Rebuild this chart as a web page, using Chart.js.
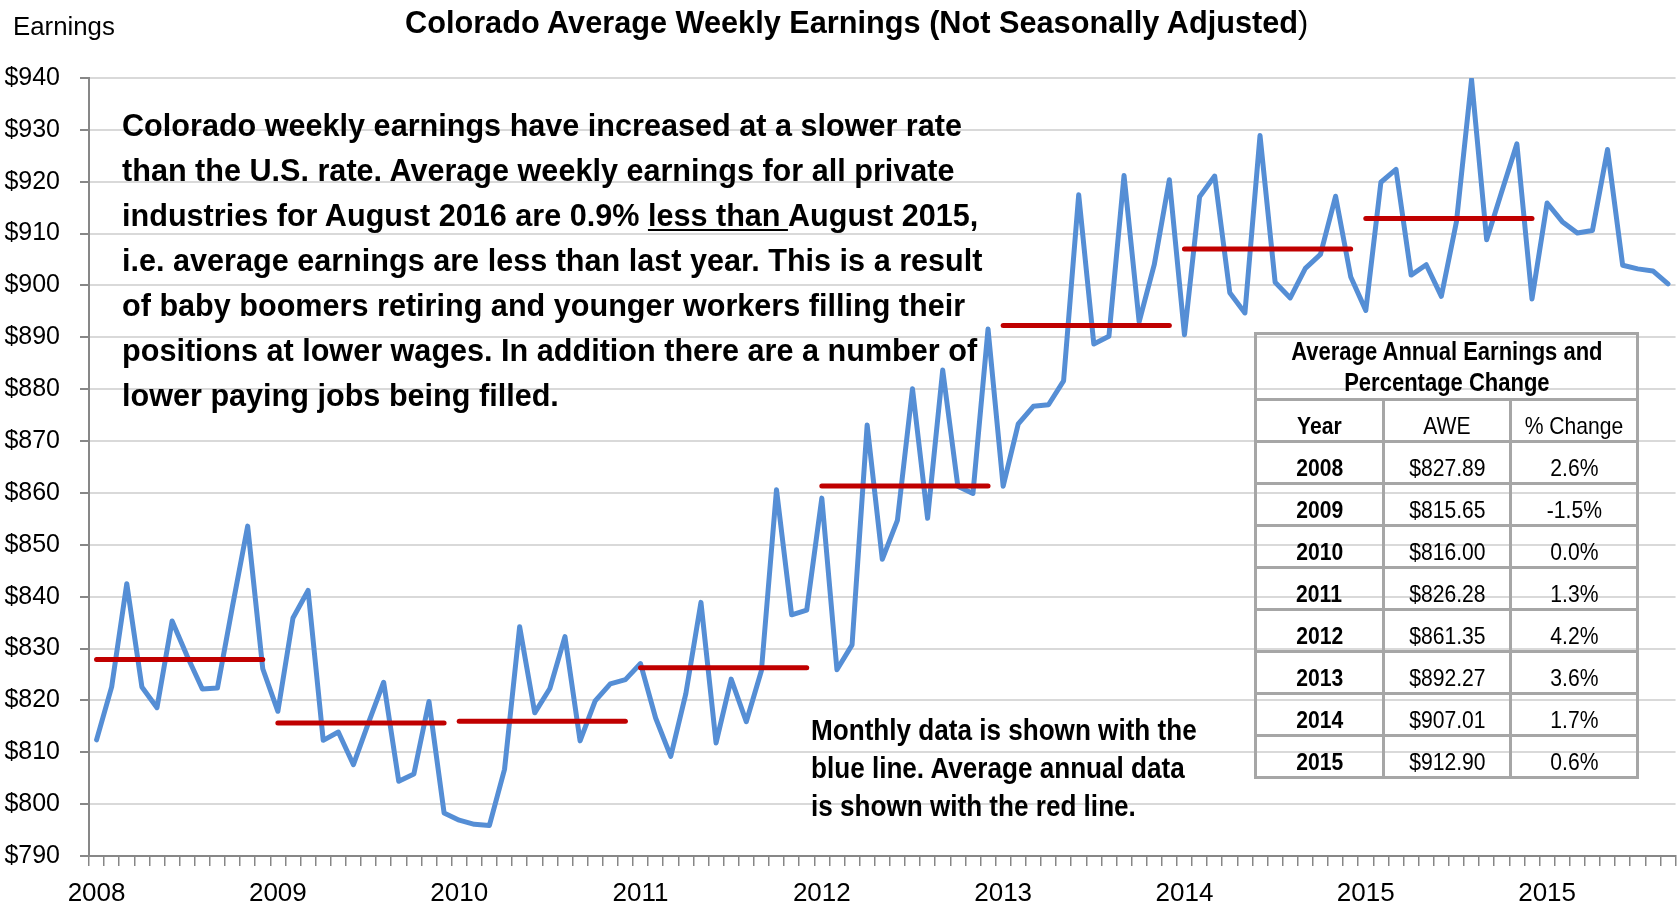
<!DOCTYPE html>
<html>
<head>
<meta charset="utf-8">
<title>Colorado Average Weekly Earnings</title>
<script src="https://cdn.jsdelivr.net/npm/chart.js@4.4.1/dist/chart.umd.min.js"></script>
<style>
  body { margin: 0; background: #fff; font-family: "Liberation Sans", Arial, sans-serif; }
  #wrap { position: relative; width: 1680px; height: 911px; overflow: hidden; }
  #chartBox { position: absolute; left: 0; top: 0; width: 1680px; height: 911px; }
  .txt { position: absolute; white-space: nowrap; color: #000; }
  #earningsLbl { left: 13px; top: 11px; font-size: 25.8px; line-height: 30px; }
  #title { left: 405px; top: 5px; font-size: 30.7px; line-height: 36px; font-weight: bold; }
  #note { left: 122px; top: 103px; font-size: 30.6px; line-height: 45px; font-weight: bold; }
  #note u { text-decoration-thickness: 2px; text-underline-offset: 3px; }
  #legendNote { left: 811px; top: 711px; font-size: 29px; line-height: 38px; font-weight: bold;
    transform: scaleX(0.9); transform-origin: left top; }
  #aweTable { position: absolute; left: 1254px; top: 332px; width: 385px; border-collapse: collapse;
    font-size: 24px; color: #000; }
  #aweTable td { border: 3px solid #a6a6a6; text-align: center; padding: 0; }
  #aweTable span { display: inline-block; transform: scaleX(0.88); white-space: nowrap; }
  #aweTable .head { height: 63px; font-weight: bold; line-height: 31px; font-size: 25px; }
  #aweTable .row td { height: 39px; vertical-align: bottom; padding-bottom: 0; line-height: 28px; }
  #aweTable .b { font-weight: bold; }
</style>
</head>
<body>
<div id="wrap">
  <div id="chartBox"><canvas id="earningsChart"></canvas></div>
  <div class="txt" id="earningsLbl">Earnings</div>
  <div class="txt" id="title">Colorado Average Weekly Earnings (Not Seasonally Adjusted<span style="font-weight:normal">)</span></div>
  <div class="txt" id="note">
    Colorado weekly earnings have increased at a slower rate<br>
    than the U.S. rate. Average weekly earnings for all private<br>
    industries for August 2016 are 0.9% <u>less than </u>August 2015,<br>
    i.e. average earnings are less than last year. This is a result<br>
    of baby boomers retiring and younger workers filling their<br>
    positions at lower wages. In addition there are a number of<br>
    lower paying jobs being filled.
  </div>
  <div class="txt" id="legendNote">
    Monthly data is shown with the<br>
    blue line. Average annual data<br>
    is shown with the red line.
  </div>
  <table id="aweTable"></table>
</div>

<script>
// Monthly average weekly earnings
const earnings2008 = [812.4, 822.6, 842.5, 822.6, 818.6, 835.3, 828.5, 822.2, 822.4, 838.2, 853.6, 826.1];
const earnings2009 = [817.9, 835.9, 841.2, 812.3, 813.9, 807.6, 815.7, 823.5, 804.4, 805.8, 819.8, 798.3];
const earnings2010 = [796.9, 796.1, 795.9, 806.7, 834.2, 817.6, 822.3, 832.3, 812.2, 819.9, 823.2, 824.0];
const earnings2011 = [827.1, 816.6, 809.2, 821.3, 838.9, 811.8, 824.1, 815.9, 825.7, 860.6, 836.5, 837.4];
const earnings2012 = [859.0, 825.9, 830.7, 873.1, 847.2, 854.7, 880.1, 855.1, 883.7, 861.3, 859.9, 891.6];
const earnings2013 = [861.3, 873.3, 876.7, 877.0, 881.6, 917.5, 888.7, 890.2, 921.2, 893.0, 904.0, 920.4];
const earnings2014 = [890.5, 917.1, 921.1, 898.6, 894.7, 928.9, 900.6, 897.6, 903.3, 906.0, 917.2, 901.7];
const earnings2015 = [895.2, 919.9, 922.4, 902.0, 904.0, 897.9, 912.3, 939.7, 908.8, 918.1, 927.3, 897.4];
const earnings2016 = [915.9, 912.3, 910.1, 910.6, 926.2, 903.9, 903.2, 902.8, 900.3];

const monthlyEarnings = [].concat(earnings2008, earnings2009, earnings2010, earnings2011,
  earnings2012, earnings2013, earnings2014, earnings2015, earnings2016);

// Annual table
const tableYears = ["2008", "2009", "2010", "2011", "2012", "2013", "2014", "2015"];
const annualAwe = [827.89, 815.65, 816.00, 826.28, 861.35, 892.27, 907.01, 912.90];
const annualChange = ["2.6%", "-1.5%", "0.0%", "1.3%", "4.2%", "3.6%", "1.7%", "0.6%"];

// x axis labels (one per January)
const tickLabels = ["2008", "2009", "2010", "2011", "2012", "2013", "2014", "2015", "2015"];
const monthNames = ["Jan", "Feb", "Mar", "Apr", "May", "Jun", "Jul", "Aug", "Sep", "Oct", "Nov", "Dec"];
const categories = monthlyEarnings.map((v, i) => monthNames[i % 12] + " " + (2008 + Math.floor(i / 12)));

// Build the table
const table = document.getElementById("aweTable");
let html = '<tr><td colspan="3" class="head"><span>Average Annual Earnings and<br>Percentage Change</span></td></tr>';
html += '<tr class="row"><td class="b" style="width:123px"><span>Year</span></td>' +
  '<td style="width:122px"><span>AWE</span></td><td style="width:122px"><span>% Change</span></td></tr>';
tableYears.forEach((yr, i) => {
  html += '<tr class="row"><td class="b"><span>' + yr + '</span></td><td><span>$' +
    annualAwe[i].toFixed(2) + '</span></td><td><span>' + annualChange[i] + '</span></td></tr>';
});
table.innerHTML = html;

// Red annual average segments, one per year
const annualSets = tableYears.map((yr, i) => ({
  label: "Average " + yr,
  data: categories.map((c, k) => Math.floor(k / 12) === i ? annualAwe[i] : null),
  borderColor: "#C00000",
  borderWidth: 5,
  borderCapStyle: "round",
  pointRadius: 0,
  spanGaps: false,
  order: 1
}));

const ctx = document.getElementById("earningsChart").getContext("2d");
const chart = new Chart(ctx, {
  type: "line",
  data: {
    labels: categories,
    datasets: [{
      label: "Monthly AWE",
      data: monthlyEarnings,
      borderColor: "#558ED5",
      borderWidth: 5,
      borderJoinStyle: "round",
      borderCapStyle: "round",
      pointRadius: 0,
      tension: 0,
      order: 2
    }].concat(annualSets)
  },
  options: {
    responsive: true,
    maintainAspectRatio: false,
    animation: false,
    layout: { padding: { top: 78, right: 3, left: 0, bottom: 0 } },
    plugins: {
      legend: { display: false },
      tooltip: { enabled: false },
      title: { display: false }
    },
    scales: {
      x: {
        offset: true,
        afterFit: (scale) => { scale.height = 55; },
        border: { color: "#878787", width: 2 },
        grid: { drawOnChartArea: false, drawTicks: true, tickLength: 10, offset: true,
          tickColor: "#878787", lineWidth: 1.5 },
        ticks: {
          autoSkip: false,
          maxRotation: 0,
          padding: 12,
          color: "#000",
          font: { family: "'Liberation Sans', Arial, sans-serif", size: 26 },
          callback: (val, idx) => idx % 12 === 0 ? tickLabels[idx / 12] : ""
        }
      },
      y: {
        min: 790,
        max: 940,
        afterFit: (scale) => { scale.width = 89; },
        border: { color: "#878787", width: 2 },
        grid: { color: "#d9d9d9", lineWidth: 2, tickLength: 9, tickColor: "#878787" },
        ticks: {
          stepSize: 10,
          padding: 20,
          color: "#000",
          font: { family: "'Liberation Sans', Arial, sans-serif", size: 25 },
          callback: (v) => "$" + v
        }
      }
    }
  }
});
</script>
</body>
</html>
